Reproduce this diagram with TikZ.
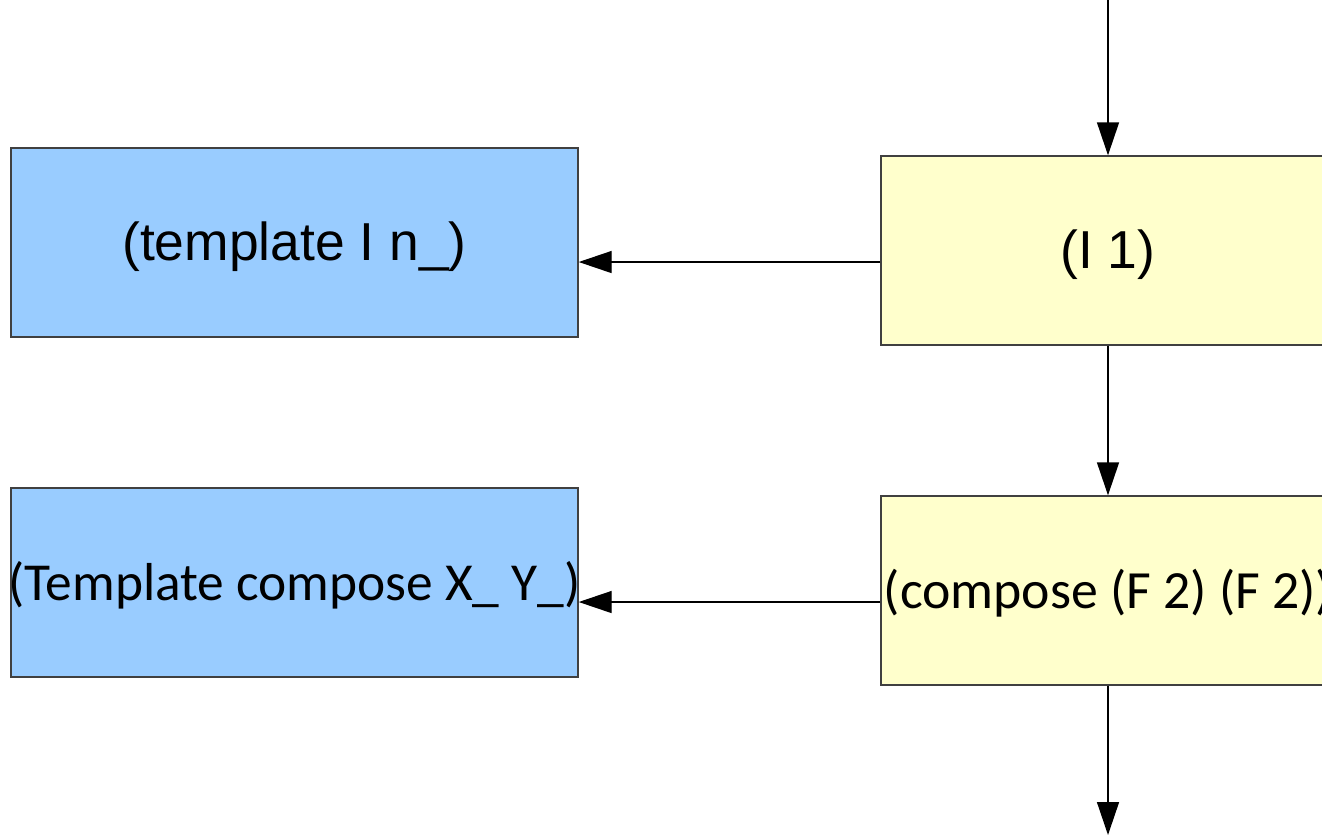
\documentclass[tikz,border=0pt]{standalone}
\usepackage{fontspec}
\setmainfont{Liberation Sans}
\newfontfamily\calib{Carlito}
\usetikzlibrary{arrows.meta}
\definecolor{tmplblue}{HTML}{99CCFF}
\definecolor{exprcream}{HTML}{FFFFCC}
\begin{document}
\begin{tikzpicture}[
    box/.style={draw=black!75, line width=0.4pt, inner sep=0pt, minimum height=1.89cm,
      text height=14pt, text depth=3.5pt, font=\fontsize{15.2}{18}\selectfont},
    tmplbox/.style={box, fill=tmplblue, minimum width=5.67cm},
    exprbox/.style={box, fill=exprcream, minimum width=4.54cm},
    arr/.style={line width=0.4pt, -{Triangle[length=3.3mm, width=2.2mm]}}
  ]
  \useasboundingbox (0,0) rectangle (13.22,-8.36);
  \begin{scope}
    \clip (0,0) rectangle (13.22,-8.36); % right side of the expressions is cut off
    % Templates on the left
    \node[tmplbox] (tmplI) at (2.945,-2.425) {(template I n\_)};
    \node[tmplbox, font=\calib\fontsize{15.2}{18}\selectfont] (tmplcomp) at (2.945,-5.825)
      {\makebox[0pt]{(Template compose X\_ Y\_)}}; % text runs over the box edges
    % Expressions on the right
    \node[exprbox] (exprI) at (11.08,-2.505) {(I 1)};
    \node[exprbox, font=\calib\fontsize{15.3}{18}\selectfont] (exprcomp) at (11.08,-5.905)
      {\makebox[0pt]{(compose (F 2) (F 2))}};
  \end{scope}
  \coordinate (in) at (11.08,0);
  \coordinate (out) at (11.08,-8.35);

  % Main flow down the right
  \draw[arr] (in) -- (exprI.north);
  \draw[arr] (exprI.south) -- (exprcomp.north);
  \draw[arr] (exprcomp.south) -- (out);

  % Matching templates
  \path ([yshift=-1.15mm]exprI.west) coordinate (m1);
  \path ([yshift=-1.15mm]exprcomp.west) coordinate (m2);
  \draw[arr] (m1) -- (m1 -| tmplI.east);
  \draw[arr] (m2) -- (m2 -| tmplcomp.east);
\end{tikzpicture}
\end{document}
